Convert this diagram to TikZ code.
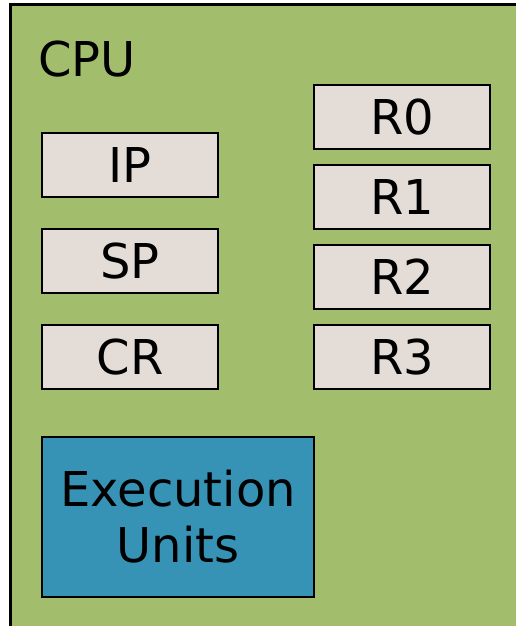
\documentclass[tikz,border=0pt]{standalone}
\usepackage{fontspec}
\setmainfont{DejaVu Sans}
\usetikzlibrary{positioning}

\definecolor{cpugreen}{RGB}{162,190,108}
\definecolor{reggray}{RGB}{227,220,215}
\definecolor{unitblue}{RGB}{54,147,181}

\tikzset{
  regbox/.style = {draw=black, line width=1pt, fill=reggray,
    minimum width=88pt, minimum height=32pt, inner sep=0pt,
    font=\fontsize{24}{28}\selectfont},
  unitbox/.style = {draw=black, line width=1pt, fill=unitblue,
    minimum width=136pt, minimum height=80pt, inner sep=0pt, align=center,
    font=\fontsize{24}{28}\selectfont}
}

\begin{document}
\begin{tikzpicture}[x=0.5pt, y=-0.5pt]
	\useasboundingbox (0,0) rectangle (515,626);
	\fill[white] (0,0) rectangle (515,626);

	% the cpu frame, running off the right and bottom
	\draw[line width=1.5pt, fill=cpugreen] (10,5) rectangle (540,650);
	\node[anchor=base west, inner sep=0pt, font=\fontsize{24}{28}\selectfont] (cpu) at (38,77) {CPU};

	% special registers
	\node[regbox] (ip) at (130,165) {IP};
	\node[regbox] (sp) at (130,261) {SP};
	\node[regbox] (cr) at (130,357) {CR};

	% general registers
	\node[regbox] (r0) at (402,117) {R0};
	\node[regbox] (r1) at (402,197) {R1};
	\node[regbox] (r2) at (402,277) {R2};
	\node[regbox] (r3) at (402,357) {R3};

	\node[unitbox] (exec) at (178,517) {Execution\\Units};

\end{tikzpicture}
\end{document}
